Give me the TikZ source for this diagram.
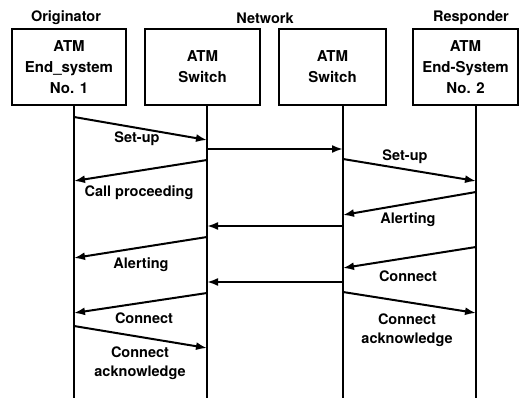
\documentclass[tikz,border=0pt]{standalone}
\usepackage{fontspec}
\setmainfont{TeX Gyre Heros}
\usetikzlibrary{arrows.meta}

\begin{document}
\begin{tikzpicture}[x=1pt, y=-1pt, >={Latex[length=11pt,width=8pt]},
  every node/.style={font=\fontsize{14.5}{19.5}\selectfont\bfseries, align=center},
  sysbox/.style={draw, line width=2pt, minimum height=76pt, inner sep=0pt,
    font=\fontsize{15}{21}\selectfont\bfseries},
  life/.style={line width=2.4pt},
  msg/.style={->, line width=2pt}]
  \useasboundingbox (0,0) rectangle (529,398);
  % --- Titles ---
  \node (orig) at (66,18) {Originator};
  \node (net) at (265,18) {Network};
  \node (resp) at (471,18) {Responder};
  % Systems
  \node[sysbox, minimum width=114pt] (es1) at (69,67) {ATM\\End\_system\\No. 1};
  \node[sysbox, minimum width=115pt] (sw1) at (202.5,67) {ATM\\Switch};
  \node[sysbox, minimum width=107pt] (sw2) at (332.5,67) {ATM\\Switch};
  \node[sysbox, minimum width=105pt] (es2) at (465.5,67) {ATM\\End-System\\No. 2};
  % Lifelines
  \coordinate (l1) at (es1.south -| 74,0);
  \coordinate (l2) at (sw1.south -| 207,0);
  \coordinate (l3) at (sw2.south -| 343,0);
  \coordinate (l4) at (es2.south -| 476,0);
  \coordinate (e1) at (74,398);
  \coordinate (e2) at (207,398);
  \coordinate (e3) at (343,398);
  \coordinate (e4) at (476,398);
  \draw[life] (l1) -- (e1);
  \draw[life] (l2) -- (e2);
  \draw[life] (l3) -- (e3);
  \draw[life] (l4) -- (e4);

  % --- Messages ---
  \draw[msg] (l1 |- 0,117) -- (l2 |- 0,140);
  \node (setup1) at (137,139) {Set-up};
  \draw[msg] (l2 |- 0,149) -- (l3 |- 0,149);
  \draw[msg] (l3 |- 0,159) -- (l4 |- 0,181);
  \node (setup2) at (405,157) {Set-up};
  \draw[msg] (l2 |- 0,160) -- (l1 |- 0,181);
  \node (callproc) at (139,193) {Call proceeding};
  \draw[msg] (l4 |- 0,192) -- (l3 |- 0,215);
  \node (alert2) at (408,220) {Alerting};
  \draw[msg] (l3 |- 0,226) -- (l2 |- 0,226);
  \draw[msg] (l2 |- 0,237) -- (l1 |- 0,258);
  \node (alert1) at (141,265) {Alerting};
  \draw[msg] (l4 |- 0,247) -- (l3 |- 0,268);
  \node (conn2) at (408,276) {Connect};
  \draw[msg] (l3 |- 0,282) -- (l2 |- 0,282);
  \draw[msg] (l2 |- 0,293) -- (l1 |- 0,313);
  \node (conn1) at (144,318) {Connect};
  \draw[msg] (l1 |- 0,326) -- (l2 |- 0,348);
  \node (ack1) at (140,363) {Connect\\acknowledge};
  \draw[msg] (l3 |- 0,292) -- (l4 |- 0,313);
  \node (ack2) at (407,330) {Connect\\acknowledge};
\end{tikzpicture}
\end{document}
